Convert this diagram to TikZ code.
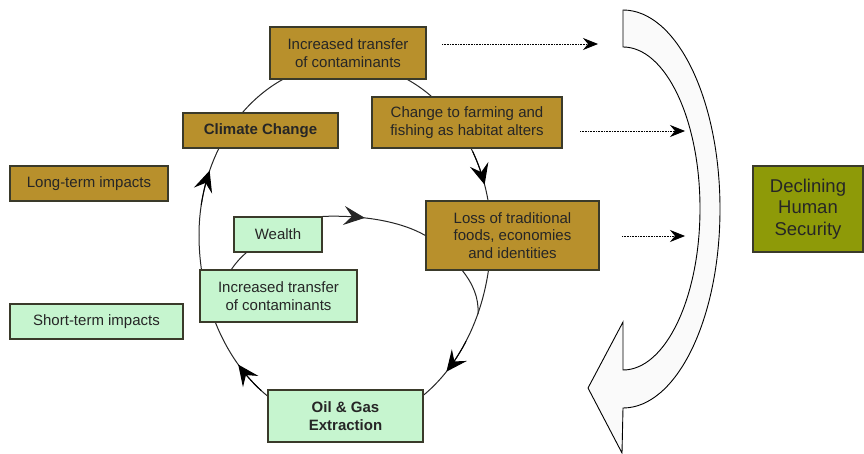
\documentclass[tikz,border=0pt]{standalone}
\usepackage{fontspec}
\setmainfont{Liberation Sans}
\usetikzlibrary{arrows.meta,decorations.markings}
\definecolor{brownbox}{HTML}{B8902C}
\definecolor{greenbox}{HTML}{C6F5CF}
\definecolor{olivebox}{HTML}{8E9A08}
\definecolor{edgec}{HTML}{3A3A2A}
\begin{document}
\begin{tikzpicture}[x=1pt,y=-1pt,
  box/.style={draw=edgec, line width=1.2pt, inner sep=0pt, align=center, font=\fontsize{15}{17.5}\selectfont, text=black!85},
  longbox/.style={box, fill=brownbox},
  shortbox/.style={box, fill=greenbox},
  secbox/.style={box, fill=olivebox, font=\fontsize{18.5}{21.5}\selectfont},
  loopline/.style={draw=black!85, line width=1pt},
  tiparrow/.style={-{Stealth[length=21pt,width=19pt,inset=8pt]}, line width=1pt, draw=black},
  dots/.style={dash pattern=on 0.8pt off 0.8pt, line width=0.9pt, -{Stealth[length=15pt,width=12pt,inset=5pt]}},
]
\useasboundingbox (0,0) rectangle (864,454);

% big hollow curved arrow
\draw[line width=0.9pt, fill=white!98!black]
  (623,10) .. controls (676.6,10) and (720,99.1) .. (720,209)
  .. controls (720,318.9) and (676.6,408) .. (623,408)
  -- (622,453) -- (588,388) -- (623,322) -- (623,370)
  .. controls (665.5,370) and (700,297.7) .. (700,208.5)
  .. controls (700,119.3) and (665.5,47) .. (623,47) -- cycle;

% outer loop
\draw[loopline] plot[domain=180:360, samples=90, smooth] ({345+146*cos(\x)},{235+172*sin(\x)});
\draw[loopline] plot[domain=0:180, samples=90, smooth] ({345+146*cos(\x)},{235+190*sin(\x)});
% arrow tips on the outer loop
\draw[tiparrow] plot[domain=190:202, samples=7, smooth] ({345+146*cos(\x)},{235+172*sin(\x)});
\draw[tiparrow] plot[domain=331:343, samples=7, smooth] ({345+146*cos(\x)},{235+172*sin(\x)});
\draw[tiparrow] plot[domain=34:46, samples=7, smooth] ({345+146*cos(\x)},{235+190*sin(\x)});
\draw[tiparrow] plot[domain=125:137, samples=7, smooth] ({345+146*cos(\x)},{235+190*sin(\x)});

% nodes
\node[longbox, minimum width=156pt, minimum height=52pt] (topinc) at (348,53) {Increased transfer\\of contaminants};
\node[longbox, minimum width=155pt, minimum height=35pt, font=\fontsize{15}{17.5}\selectfont\bfseries] (climate) at (260.5,130.5) {Climate Change};
\node[longbox, minimum width=190pt, minimum height=51pt] (farming) at (467,122.5) {Change to farming and\\fishing as habitat alters};
\node[longbox, minimum width=173pt, minimum height=69pt] (loss) at (512.5,235.5) {Loss of traditional\\foods, economies\\and identities};
\node[shortbox, minimum width=88pt, minimum height=35pt] (wealth) at (278,234.5) {Wealth};
\node[shortbox, minimum width=157pt, minimum height=52pt] (greeninc) at (278.5,296) {Increased transfer\\of contaminants};
\node[shortbox, minimum width=155pt, minimum height=52pt, font=\fontsize{15}{17.5}\selectfont\bfseries] (oil) at (345.5,416) {Oil \& Gas\\Extraction};
\node[longbox, minimum width=158pt, minimum height=35pt] (longterm) at (89,183.5) {Long-term impacts};
\node[shortbox, minimum width=173pt, minimum height=35pt] (shortterm) at (96.5,321.5) {Short-term impacts};
\node[secbox, minimum width=110pt, minimum height=86pt] (declining) at (808,209) {Declining\\Human\\Security};

% inner loop pieces
\draw[loopline, postaction={decorate}, decoration={markings, mark=at position 0.4 with {\arrow{Stealth[length=21pt,width=19pt,inset=8pt]}}}]
  (wealth.north east) .. controls (362,215) and (400,221) .. (loss.west);
\coordinate (lb) at ([xshift=37pt]loss.south west);
\coordinate (merge) at (478,314);
\draw[loopline] (lb) .. controls (473,284) and (479,298) .. (merge);
\draw[loopline] ([xshift=13pt]wealth.south west) .. controls (240,258) and (235,264) .. ([xshift=32pt]greeninc.north west);

% dotted arrows toward the big arrow
\coordinate (d1s) at (442,44);  \coordinate (d1e) at (598,44);
\coordinate (d2s) at (580,131); \coordinate (d2e) at (685,131);
\coordinate (d3s) at (622,236); \coordinate (d3e) at (685,236);
\draw[dots] (d1s) -- (d1e);
\draw[dots] (d2s) -- (d2e);
\draw[dots] (d3s) -- (d3e);
\end{tikzpicture}
\end{document}
